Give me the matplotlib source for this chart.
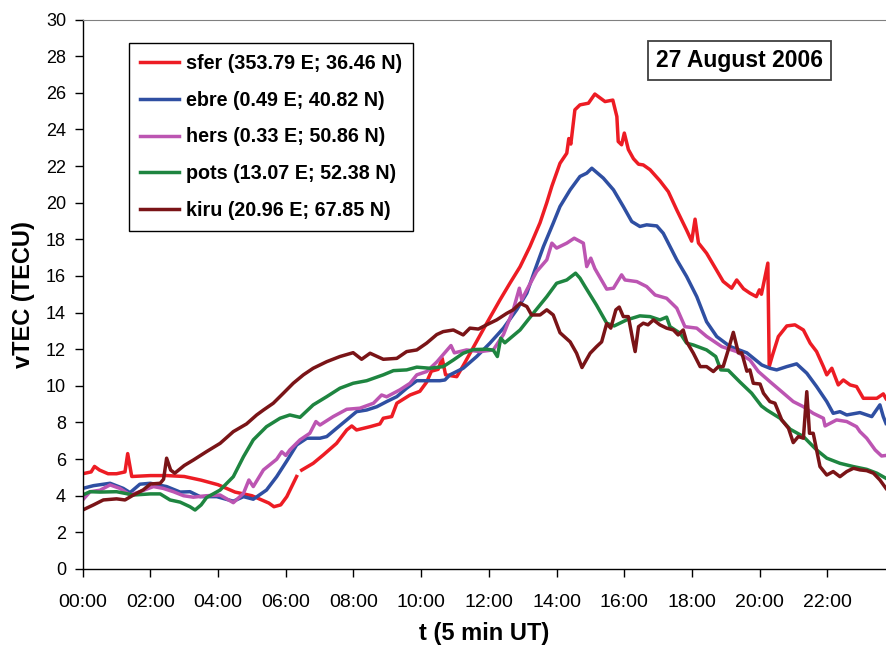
import numpy as np
import matplotlib
matplotlib.use('Agg')
import matplotlib.pyplot as plt

# Station vTEC series (time in hours UT, vTEC in TECU)
sfer_t = [0, 0.25, 0.35, 0.5, 0.75, 1.0, 1.25, 1.33, 1.45, 2.0, 2.5, 3.0, 3.5, 4.0, 4.5, 5.0,
          5.5, 5.65, 5.85, 6.03, 6.32, 6.4, 6.47, 6.81, 7.11, 7.5, 7.8, 7.95, 8.09, 8.49, 8.78,
          8.88, 9.13, 9.28, 9.67, 9.96, 10.16, 10.3, 10.5, 10.62, 10.72, 11.05, 11.24, 11.54,
          11.93, 12.33, 12.62, 12.92, 13.21, 13.51, 13.71, 13.86, 14.1, 14.3, 14.36, 14.42,
          14.54, 14.69, 14.94, 15.13, 15.43, 15.66, 15.78, 15.82, 15.92, 16.0, 16.12, 16.27,
          16.42, 16.56, 16.76, 17.05, 17.3, 17.55, 17.84, 17.99, 18.09, 18.19, 18.43, 18.73,
          18.92, 19.17, 19.32, 19.52, 19.71, 19.9, 19.99, 20.05, 20.24, 20.28, 20.38, 20.55,
          20.8, 21.04, 21.29, 21.49, 21.68, 21.88, 21.98, 22.13, 22.32, 22.47, 22.67, 22.86,
          23.06, 23.46, 23.65, 23.73]
sfer_v = [5.2, 5.3, 5.6, 5.4, 5.2, 5.2, 5.3, 6.3, 5.05, 5.1, 5.1, 5.05, 4.85, 4.6, 4.2, 4.0,
          3.6, 3.4, 3.5, 3.95, 5.05, np.nan, 5.4, 5.77, 6.23, 6.86, 7.59, 7.81, 7.59, 7.77, 7.92,
          8.23, 8.32, 9.05, 9.5, 9.7, 10.2, 10.8, 10.9, 11.5, 10.6, 10.5, 11.1, 12.1,
          13.4, 14.7, 15.6, 16.5, 17.6, 18.9, 20.0, 20.9, 22.15, 22.7, 23.5, 23.2,
          25.07, 25.34, 25.43, 25.93, 25.52, 25.6, 24.7, 23.34, 23.16, 23.8, 22.9, 22.4,
          22.1, 22.06, 21.8, 21.2, 20.6, 19.6, 18.5, 17.9, 19.1, 17.8, 17.24, 16.3,
          15.7, 15.33, 15.78, 15.3, 15.06, 14.87, 15.24, 15.0, 16.7, 11.05, 11.69, 12.69,
          13.27, 13.33, 13.05, 12.33, 11.87, 11.05, 10.6, 10.96, 10.05, 10.32, 10.05, 9.96,
          9.32, 9.32, 9.56, 9.3]

ebre_t = [0, 0.32, 0.81, 1.2, 1.4, 1.69, 2.0, 2.48, 2.88, 3.17, 3.47, 3.96, 4.45, 4.75, 5.04,
          5.43, 5.73, 6.03, 6.32, 6.62, 7.01, 7.21, 7.5, 7.8, 8.09, 8.39, 8.69, 8.98, 9.28, 9.57,
          9.87, 10.16, 10.55, 10.7, 10.85, 11.24, 11.64, 12.03, 12.43, 12.82, 13.12, 13.36,
          13.61, 13.9, 14.1, 14.4, 14.69, 14.89, 15.04, 15.38, 15.68, 15.97, 16.22, 16.46,
          16.66, 16.96, 17.15, 17.25, 17.55, 17.84, 18.14, 18.43, 18.73, 19.12, 19.62, 20.06,
          20.3, 20.5, 20.8, 21.09, 21.39, 21.68, 21.98, 22.17, 22.37, 22.57, 22.96, 23.31,
          23.55, 23.65, 23.73]
ebre_v = [4.4, 4.55, 4.68, 4.4, 4.17, 4.63, 4.68, 4.5, 4.2, 4.22, 3.95, 3.95, 3.7, 3.95, 3.81,
          4.31, 5.04, 5.9, 6.77, 7.14, 7.14, 7.23, 7.68, 8.14, 8.59, 8.68, 8.86, 9.14, 9.41, 9.87,
          10.28, 10.28, 10.28, 10.32, 10.6, 10.96, 11.6, 12.33, 13.15, 14.15, 15.06, 16.33,
          17.6, 18.88, 19.79, 20.7, 21.43, 21.61, 21.88, 21.34, 20.7, 19.79, 18.97, 18.7,
          18.79, 18.73, 18.33, 17.97, 16.88, 15.97, 14.87, 13.5, 12.69, 12.15, 11.8, 11.14,
          10.96, 10.87, 11.05, 11.2, 10.69, 9.96, 9.14, 8.5, 8.59, 8.41, 8.54, 8.32,
          8.96, 8.32, 7.95]

hers_t = [0, 0.22, 0.51, 0.81, 1.1, 1.4, 1.69, 2.09, 2.38, 2.68, 2.98, 3.27, 3.66, 4.06, 4.45,
          4.75, 4.91, 5.04, 5.34, 5.73, 5.88, 6.0, 6.12, 6.42, 6.71, 6.89, 7.01, 7.4, 7.8, 8.19,
          8.59, 8.83, 8.98, 9.37, 9.67, 9.87, 10.16, 10.46, 10.88, 10.98, 11.34, 11.74, 12.13,
          12.43, 12.72, 12.9, 12.97, 13.12, 13.41, 13.71, 13.86, 14.0, 14.3, 14.52, 14.79,
          14.89, 15.01, 15.13, 15.48, 15.68, 15.92, 16.02, 16.37, 16.66, 16.91, 17.25, 17.55,
          17.79, 18.14, 18.43, 18.88, 19.32, 19.71, 19.96, 20.3, 20.7, 20.99, 21.29, 21.58,
          21.88, 21.93, 22.27, 22.57, 22.86, 22.96, 23.16, 23.41, 23.6, 23.73]
hers_v = [3.77, 4.22, 4.3, 4.59, 4.4, 4.04, 4.22, 4.5, 4.4, 4.22, 4.0, 3.92, 4.0, 4.04, 3.62,
          4.13, 4.86, 4.5, 5.41, 5.99, 6.4, 6.2, 6.5, 7.05, 7.41, 8.05, 7.86, 8.32, 8.72, 8.78,
          9.05, 9.5, 9.4, 9.78, 10.14, 10.6, 10.78, 11.3, 12.2, 11.8, 11.96, 11.87, 11.96,
          12.8, 14.15, 15.33, 14.69, 15.24, 16.24, 16.88, 17.79, 17.52, 17.79, 18.06, 17.79,
          16.51, 16.97, 16.4, 15.28, 15.33, 16.06, 15.78, 15.69, 15.42, 14.96, 14.78, 14.24,
          13.23, 13.15, 12.7, 12.14, 11.87, 11.41, 10.78, 10.23, 9.6, 9.14, 8.86, 8.5,
          8.23, 7.81, 8.14, 8.05, 7.77, 7.5, 7.14, 6.5, 6.17, 6.2]

pots_t = [0, 0.22, 0.51, 1.0, 1.5, 2.0, 2.29, 2.58, 2.88, 3.17, 3.32, 3.5, 3.66, 4.06, 4.45,
          4.75, 5.04, 5.43, 5.83, 6.12, 6.42, 6.81, 7.21, 7.6, 7.99, 8.39, 8.88, 9.18, 9.57,
          9.87, 10.26, 10.65, 10.95, 11.24, 11.54, 11.93, 12.13, 12.25, 12.35, 12.47, 12.92,
          13.31, 13.71, 14.0, 14.3, 14.56, 14.69, 14.84, 15.18, 15.48, 15.7, 16.07, 16.46,
          16.76, 17.05, 17.25, 17.35, 17.65, 17.84, 18.04, 18.43, 18.7, 18.85, 19.07, 19.42,
          19.76, 20.05, 20.21, 20.6, 20.9, 21.29, 21.68, 21.98, 22.37, 22.77, 23.16, 23.46, 23.73]
pots_v = [4.04, 4.22, 4.2, 4.22, 4.04, 4.1, 4.1, 3.77, 3.65, 3.4, 3.22, 3.5, 3.9, 4.31, 5.04,
          6.13, 7.05, 7.77, 8.23, 8.41, 8.28, 8.96, 9.41, 9.87, 10.14, 10.28, 10.6, 10.83, 10.87,
          11.02, 10.96, 11.05, 11.41, 11.78, 11.98, 12.0, 11.95, 11.6, 12.6, 12.35, 13.05,
          13.96, 14.87, 15.6, 15.78, 16.15, 15.88, 15.42, 14.4, 13.42, 13.27, 13.6, 13.82,
          13.78, 13.6, 13.75, 13.23, 12.87, 12.33, 12.23, 11.96, 11.6, 10.87, 10.85, 10.2,
          9.6, 8.9, 8.68, 8.23, 7.63, 7.23, 6.5, 6.05, 5.77, 5.59, 5.44, 5.23, 4.95]

kiru_t = [0, 0.32, 0.61, 1.0, 1.25, 1.5, 1.79, 2.0, 2.29, 2.39, 2.48, 2.6, 2.72, 3.0, 3.27,
          3.66, 4.06, 4.45, 4.84, 5.14, 5.34, 5.63, 5.93, 6.22, 6.52, 6.81, 7.21, 7.6, 7.99,
          8.24, 8.49, 8.88, 9.28, 9.57, 9.87, 10.16, 10.46, 10.65, 10.95, 11.24, 11.44, 11.69,
          11.93, 12.23, 12.53, 12.72, 12.92, 13.12, 13.26, 13.51, 13.71, 13.9, 14.1, 14.4,
          14.59, 14.75, 14.99, 15.18, 15.33, 15.48, 15.6, 15.75, 15.85, 15.97, 16.12, 16.25,
          16.32, 16.42, 16.56, 16.7, 16.86, 17.05, 17.25, 17.45, 17.59, 17.74, 17.84, 18.04,
          18.24, 18.43, 18.63, 18.78, 18.92, 19.07, 19.22, 19.37, 19.47, 19.62, 19.71, 19.81,
          20.01, 20.11, 20.3, 20.45, 20.65, 20.85, 20.99, 21.14, 21.29, 21.39, 21.47, 21.58,
          21.78, 21.98, 22.17, 22.37, 22.57, 22.77, 22.96, 23.16, 23.36, 23.55, 23.73]
kiru_v = [3.22, 3.5, 3.77, 3.83, 3.77, 4.04, 4.32, 4.64, 4.68, 4.9, 6.05, 5.4, 5.23, 5.65, 5.95,
          6.41, 6.86, 7.5, 7.92, 8.41, 8.68, 9.05, 9.6, 10.14, 10.6, 10.96, 11.32, 11.6, 11.81,
          11.45, 11.78, 11.45, 11.5, 11.87, 11.96, 12.33, 12.8, 12.96, 13.05, 12.78, 13.15, 13.1,
          13.33, 13.6, 13.96, 14.15, 14.51, 14.33, 13.87, 13.87, 14.15, 13.87, 12.9, 12.4,
          11.78, 11.0, 11.78, 12.14, 12.4, 13.4, 13.15, 14.15, 14.3, 13.78, 13.78, 12.5,
          11.87, 13.23, 13.42, 13.33, 13.6, 13.33, 13.15, 13.05, 12.78, 13.05, 12.41, 11.78,
          11.05, 11.05, 10.78, 11.05, 11.05, 11.96, 12.92, 11.8, 11.8, 10.8, 10.87, 10.14,
          10.1, 9.6, 9.14, 9.05, 8.14, 7.68, 6.9, 7.23, 7.14, 9.68, 7.41, 7.41,
          5.59, 5.13, 5.32, 5.04, 5.32, 5.5, 5.41, 5.37, 5.23, 4.86, 4.4]

labels = ['sfer (353.79 E; 36.46 N)', 'ebre (0.49 E; 40.82 N)', 'hers (0.33 E; 50.86 N)',
          'pots (13.07 E; 52.38 N)', 'kiru (20.96 E; 67.85 N)']
colors = ['#ED1C24', '#2F4FA2', '#BC55B2', '#1E8540', '#7A1417']

hour_ticks = [0, 2, 4, 6, 8, 10, 12, 14, 16, 18, 20, 22]
hour_labels = ['00:00', '02:00', '04:00', '06:00', '08:00', '10:00',
               '12:00', '14:00', '16:00', '18:00', '20:00', '22:00']

plt.rcParams['font.family'] = ['Liberation Sans', 'DejaVu Sans']

# Creating the figure with the plot area filling most of the canvas
fig = plt.figure(figsize=(8.86, 6.46), dpi=100)
ax = fig.add_axes([0.0933, 0.1192, 0.9067, 0.8506])

series = [(sfer_t, sfer_v), (ebre_t, ebre_v), (hers_t, hers_v), (pots_t, pots_v), (kiru_t, kiru_v)]
for (t, v), lab, col in zip(series, labels, colors):
    ax.plot(t, v, color=col, lw=2.5, label=lab, solid_joinstyle='round')

# Axes limits and ticks
ax.set_xlim(0, 23.73)
ax.set_ylim(0, 30)
ax.set_yticks(np.arange(0, 31, 2))
ax.set_xticks(hour_ticks)
ax.set_xticklabels(hour_labels)
ax.tick_params(axis='y', direction='out', length=6, width=1, pad=6, labelsize=13)
ax.tick_params(axis='x', direction='out', length=6, width=1, pad=12, labelsize=14)

ax.spines['right'].set_visible(False)
ax.spines['top'].set_color('#808080')
ax.spines['left'].set_linewidth(1)
ax.spines['bottom'].set_linewidth(1)

ax.set_ylabel('vTEC (TECU)', fontsize=17, fontweight='bold', labelpad=8)
ax.set_xlabel('t (5 min UT)', fontsize=17, fontweight='bold', labelpad=8)

# Legend box in the upper left
leg = ax.legend(loc='upper left', bbox_to_anchor=(0.0576, 0.957), borderaxespad=0,
                fancybox=False, edgecolor='black', framealpha=1, handlelength=2.0,
                handletextpad=0.35, labelspacing=0.9, borderpad=0.55,
                prop={'weight': 'bold', 'size': 14.2})
leg.get_frame().set_linewidth(1)

# Date annotation
ax.text(0.818, 0.925, '27 August 2006', transform=ax.transAxes, ha='center', va='center',
        fontsize=16.5, fontweight='bold',
        bbox=dict(boxstyle='square,pad=0.35', fc='white', ec='#404040', lw=1.3))

plt.savefig('out.png', dpi=100)
